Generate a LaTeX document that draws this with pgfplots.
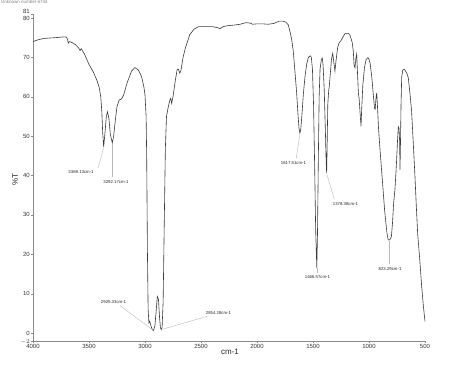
\documentclass[border=0pt]{standalone}
\usepackage{pgfplots}
\pgfplotsset{compat=1.18}
\usepackage{fontspec}
\setmainfont{Liberation Sans}
\definecolor{spec}{HTML}{3A3A3A}
\definecolor{axgray}{HTML}{8A8A8A}
\definecolor{lead}{HTML}{B8B8B8}
\begin{document}
\begin{tikzpicture}[x=1pt,y=1pt]
\useasboundingbox (0,0) rectangle (474,366);
\node[anchor=south west, font=\fontsize{4.5}{5}\selectfont, text=gray, inner sep=0] at (1,362.5) {Unknown number 6744};
\begin{axis}[at={(33pt,25pt)}, anchor=south west, scale only axis, width=392pt, height=327pt,
  xmin=500, xmax=4000, x dir=reverse, ymin=-2, ymax=81,
  axis lines=left, axis line style={axgray, line width=0.6pt, -},
  xtick={500,1000,...,4000}, ytick={0,10,20,30,40,50,60,70,80},
  extra y ticks={81}, extra y tick style={yticklabel style={yshift=2.6pt}},
  tick style={axgray, line width=0.4pt}, major tick length=2pt, tick align=outside,
  ticklabel style={font=\fontsize{6}{7}\selectfont, text=black!80},
  /pgf/number format/assume math mode=true,
  /pgf/number format/1000 sep={},
  xticklabel style={inner sep=1pt},
  yticklabel style={inner sep=1pt},
  clip=false,
]
\addplot[spec, line width=0.6pt, mark=none] coordinates {
(4000,74.0)(3950,74.5)(3900,74.8)(3800,75.0)(3720,75.2)(3700,75.1)(3690,74.4)(3685,73.6)(3675,74.0)
(3655,73.8)(3620,73.2)(3590,72.3)(3580,71.7)(3570,72.2)(3540,70.8)(3500,68.2)(3460,66.2)(3430,64.2)
(3410,62.5)(3395,60)(3385,56)(3378,51)(3369,47.3)(3360,50)(3345,55)(3335,56.2)(3322,54.5)(3310,50.5)
(3292,48.3)(3280,50)(3265,54)(3250,57.5)(3230,59.2)(3210,59.4)(3190,60.5)(3160,63.5)(3120,66.5)
(3090,67.4)(3060,66.8)(3045,66.0)(3030,65.0)(3010,62.5)(3000,60.5)(2990,55)(2985,45)(2978,20)
(2972,6)(2965,2.6)(2958,3.0)(2950,2.2)(2940,1.2)(2925,0.6)(2912,1.8)(2902,5)(2890,9.3)(2880,8.6)
(2870,4)(2862,1.3)(2854,0.9)(2847,1.6)(2838,8)(2828,28)(2818,47)(2808,55)(2795,57)(2780,59)
(2770,59.6)(2762,58.3)(2750,60)(2730,64)(2712,67)(2700,66.9)(2690,66)(2680,66.5)(2660,70)(2640,72.3)
(2600,75.8)(2560,77.2)(2520,77.8)(2450,77.8)(2400,77.8)(2350,77.5)(2330,77.3)(2300,77.8)(2270,78)
(2200,78.2)(2150,78.4)(2100,78.8)(2060,78.7)(2040,78.4)(2000,78.5)(1950,78.5)(1900,78.4)(1850,78.6)
(1800,79.2)(1770,79.2)(1740,78.9)(1720,78.2)(1705,76.5)(1690,74.5)(1676,71.5)(1660,66)(1646,61)
(1635,56)(1625,52)(1617,50.8)(1610,51.5)(1600,55)(1585,61)(1570,65.5)(1555,68.5)(1540,70)(1525,70.4)
(1515,70)(1505,67)(1495,58)(1485,42)(1476,26)(1466,16.6)(1460,25)(1452,45)(1445,60)(1437,67)
(1425,69.5)(1417,69.8)(1410,68)(1400,62)(1390,52)(1382,43)(1378,40.7)(1374,47)(1368,58)(1360,61.5)
(1355,62.5)(1345,66)(1335,69.5)(1324,71.0)(1315,69)(1304,66.5)(1295,69)(1280,72.5)(1265,73.8)
(1250,74.2)(1230,75.3)(1215,76)(1199,76.1)(1185,76.1)(1170,75.6)(1150,73.8)(1140,71.5)(1133,68)
(1125,67.3)(1118,69.5)(1110,70.8)(1104,67)(1095,61)(1088,59.5)(1080,56)(1071,52.5)(1065,57)
(1055,63)(1040,67.5)(1025,69.5)(1010,69.9)(1000,69.5)(990,68.5)(975,65)(960,60)(950,57)(945,56.8)
(938,59.5)(931,61)(925,58)(915,52)(900,46)(880,38.5)(860,31)(840,25.5)(830,23.8)(823,23.6)
(812,23.8)(800,24.5)(790,28)(780,33)(768,36.5)(755,43)(745,49)(738,52.4)(732,52)(727,49)(723,41.5)
(719,48)(714,58)(708,65)(698,66.8)(687,67)(675,66.6)(660,65.8)(649,64.8)(635,61)(620,56.5)(605,48.5)
(590,40)(578,32.5)(565,25)(549,19.5)(530,12)(515,7)(500,3)
};
% peak annotations
\draw[lead, line width=0.4pt] (axis cs:3420,41.8) -- (axis cs:3369,47);
\draw[lead, line width=0.4pt] (axis cs:3292,48) -- (axis cs:3292,39.6);
\draw[lead, line width=0.4pt] (axis cs:3225,7.0) -- (axis cs:2925,0.7);
\draw[lead, line width=0.4pt] (axis cs:2854,0.9) -- (axis cs:2440,4.3);
\draw[lead, line width=0.4pt] (axis cs:1617,50.5) -- (axis cs:1650,44.3);
\draw[lead, line width=0.4pt] (axis cs:1466,16.5) -- (axis cs:1466,15.2);
\draw[lead, line width=0.4pt] (axis cs:1378,40.5) -- (axis cs:1310,34);
\draw[lead, line width=0.4pt] (axis cs:823,23.4) -- (axis cs:823,17.5);
\begin{scope}[every node/.style={font=\fontsize{4.3}{5}\selectfont, text=black!85, inner sep=0.5pt}]
\node at (axis cs:3571,40.9) {3369.13cm-1};
\node at (axis cs:3259,38.4) {3292.17cm-1};
\node at (axis cs:3281,7.9) {2925.33cm-1};
\node at (axis cs:2344,5.1) {2854.28cm-1};
\node at (axis cs:1674,43.2) {1617.51cm-1};
\node at (axis cs:1460,14.2) {1466.57cm-1};
\node at (axis cs:1210,32.8) {1378.38cm-1};
\node at (axis cs:812,16.3) {823.29cm-1};
\end{scope}
% the -2 tick at the foot of the y axis
\draw[axgray, line width=0.4pt] (axis cs:4000,-2) -- ([xshift=-2pt]axis cs:4000,-2);
\node[font=\fontsize{6}{7}\selectfont, text=black!80, anchor=east, inner sep=1pt] at ([xshift=-2pt,yshift=-1.2pt]axis cs:4000,-2) {$-2$};
\end{axis}
\node[font=\fontsize{8}{9}\selectfont, text=black!85] at (230,14) {cm-1};
\node[font=\fontsize{8}{9}\selectfont, text=black!85, rotate=90] at (15,186) {\%T};
\end{tikzpicture}
\end{document}
